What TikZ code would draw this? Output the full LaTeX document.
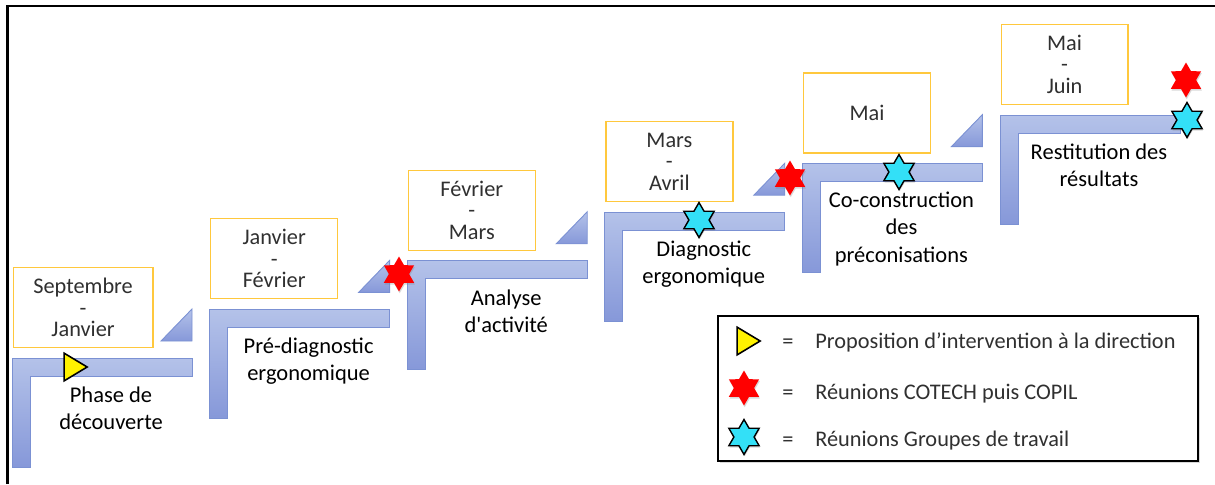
\documentclass[tikz,border=0pt]{standalone}
\usepackage{fontspec}
\setmainfont{Carlito}
\usetikzlibrary{shapes.geometric,shadows}

\definecolor{steptop}{HTML}{B4C2E9}
\definecolor{stepbot}{HTML}{8698D9}
\definecolor{stepline}{HTML}{7B91D3}
\definecolor{dateline}{HTML}{FFC83D}
\definecolor{datetext}{HTML}{303030}
\definecolor{groupecyan}{HTML}{33E0F7}

\tikzset{
  stepbar/.style={top color=steptop, bottom color=stepbot, draw=stepline, line width=0.5pt},
  datebox/.style={draw=dateline, line width=0.7pt, fill=white, minimum width=2.54cm,
    minimum height=1.6cm, inner sep=0pt, align=center, text=datetext,
    font=\fontsize{12.7}{12.2}\selectfont},
  stagelabel/.style={align=center, inner sep=0pt, font=\fontsize{12.8}{15.4}\selectfont},
  legendtext/.style={inner sep=0pt, text=datetext, font=\fontsize{12.7}{14}\selectfont},
  cotech/.style={star, star points=6, star point ratio=1.73, minimum size=0.7cm, inner sep=0pt,
    fill=red, drop shadow={shadow xshift=0.4pt, shadow yshift=-1pt, opacity=0.3}},
  groupe/.style={cotech, fill=groupecyan, draw=black, line width=0.8pt},
  propo/.style={isosceles triangle, isosceles triangle apex angle=62, minimum size=0.46cm,
    inner sep=0pt, fill=yellow, draw=black, line width=0.9pt}
}

\begin{document}
\begin{tikzpicture}[x=0.02cm, y=-0.02cm]
\useasboundingbox (0,0) rectangle (1215,484);

% Frame
\draw[line width=1.3pt] (7.5,484) -- (7.5,6) -- (1215,6);

% Steps
\foreach \i/\w/\dates/\stage in {
    0/2.8/{Septembre\\-\\Janvier}/{\strut Phase de\\découverte},
    1/2.54/{Janvier\\-\\Février}/{\strut Pré-diagnostic\\ergonomique},
    2/2.54/{Février\\-\\Mars}/{\strut Analyse\\d\textquotesingle activité},
    3/2.54/{Mars\\-\\Avril}/{\strut Diagnostic\\ergonomique},
    4/2.54/{Mai}/{\strut Co-construction\\des\\préconisations},
    5/2.54/{Mai\\-\\Juin}/{\strut Restitution des\\résultats}} {
    \pgfmathsetmacro{\xo}{12+197.6*\i}
    \pgfmathsetmacro{\yo}{358-48.6*\i}
    \draw[stepbar] (\xo,\yo) -- ++(180,0) -- ++(0,18) -- ++(-162,0) -- ++(0,91) -- ++(-18,0) -- cycle;
    \ifnum\i<5
        \draw[stepbar] (\xo+180,\yo-17) -- ++(0,-32) -- ++(-31,32) -- cycle;
    \fi
    \node[datebox, minimum width=\w cm, anchor=south west] (date\i) at (\xo+0.5,\yo-10) {\dates};
    \node[stagelabel, anchor=north] (stage\i) at (\xo+99,\yo+25) {\stage};
}

% Meetings
\node[propo] (propo1) at (72,367) {};
\node[cotech] (cotech1) at (399,274) {};
\node[cotech] (cotech2) at (790,178) {};
\node[cotech] (cotech3) at (1186,80) {};
\node[groupe] (groupe1) at (699,220) {};
\node[groupe] (groupe2) at (899,172) {};
\node[groupe] (groupe3) at (1187,120) {};

% Legend
\node[draw, line width=1.3pt, fill=white, minimum width=9.6cm, minimum height=2.9cm,
    drop shadow={shadow xshift=1pt, shadow yshift=-1pt, opacity=0.3}] (legend) at (958,388.5) {};
\node[propo] (legpropo) at (745,341) {};
\node[cotech] (legcotech) at (744,388) {};
\node[groupe] (leggroupe) at (744,437) {};
\foreach \k/\y/\txt in {
    1/348/{Proposition d’intervention à la direction},
    2/399/{Réunions COTECH puis COPIL},
    3/446/{Réunions Groupes de travail}} {
    \node[legendtext, anchor=base] (eq\k) at (788,\y) {=};
    \node[legendtext, anchor=base west] (legtext\k) at (815,\y) {\txt};
}
\end{tikzpicture}
\end{document}
